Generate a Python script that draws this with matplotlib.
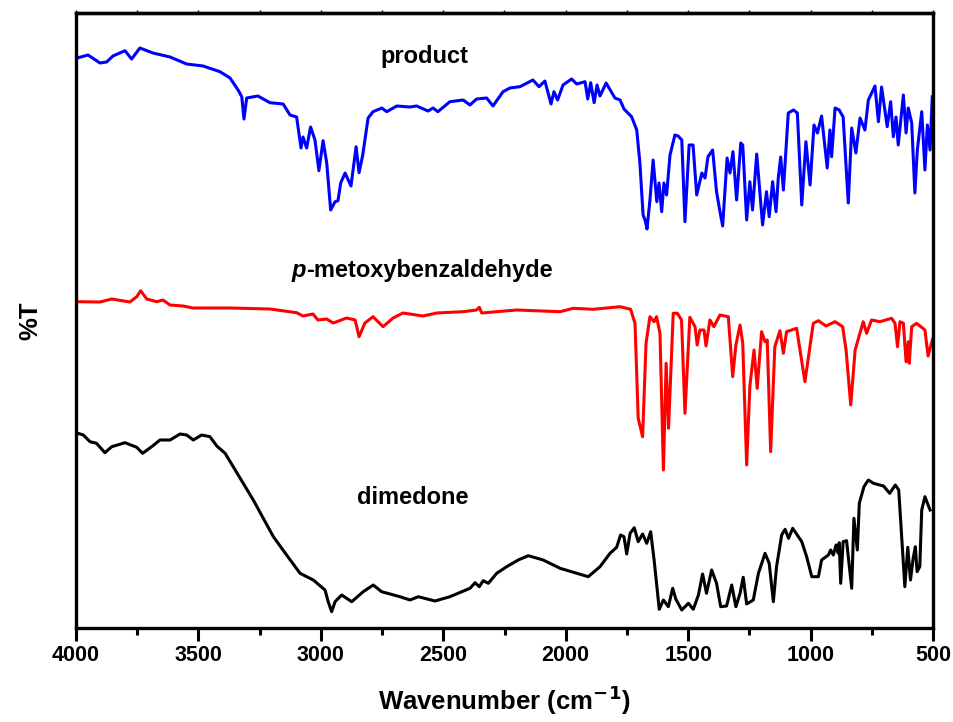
import matplotlib
matplotlib.use("Agg")
import matplotlib.pyplot as plt
from matplotlib.ticker import MultipleLocator

plt.rcParams['font.family'] = ['Liberation Sans', 'DejaVu Sans']
plt.rcParams['font.weight'] = 'bold'
plt.rcParams['mathtext.default'] = 'bf'

# product (blue) - wavenumber / %T (arbitrary offset units)
wn_product = [4000, 3951, 3902, 3875, 3849, 3800, 3773, 3739, 3686, 3616, 3548, 3481, 3412, 3371,
              3338, 3323, 3314, 3303, 3257, 3208, 3154, 3126, 3099, 3081, 3073, 3058, 3042, 3024,
              3008, 2991, 2976, 2960, 2942, 2930, 2919, 2901, 2877, 2856, 2844, 2829, 2807, 2787,
              2751, 2731, 2690, 2636, 2609, 2562, 2542, 2522, 2473, 2419, 2391, 2364, 2323, 2297,
              2256, 2228, 2187, 2134, 2109, 2085, 2060, 2048, 2033, 2011, 1976, 1955, 1921, 1910,
              1898, 1884, 1872, 1860, 1835, 1799, 1778, 1762, 1731, 1710, 1697, 1684, 1676, 1668,
              1656, 1643, 1628, 1619, 1608, 1599, 1588, 1574, 1554, 1541, 1526, 1513, 1496, 1480,
              1465, 1444, 1431, 1419, 1400, 1384, 1370, 1359, 1341, 1329, 1317, 1302, 1285, 1277,
              1261, 1248, 1237, 1220, 1196, 1180, 1169, 1155, 1141, 1132, 1122, 1111, 1091, 1070,
              1054, 1036, 1019, 1002, 986, 972, 955, 932, 921, 914, 900, 883, 867, 846, 832, 815,
              798, 778, 764, 737, 723, 710, 687, 673, 662, 651, 642, 621, 610, 601, 587, 574, 564,
              546, 533, 523, 512, 503]
t_product = [569.7, 573, 565, 566, 572, 577.3, 569, 580, 575, 571, 564, 562, 556.3, 550,
             538, 531.3, 509, 530, 532, 525.3, 524, 513, 511, 480, 491, 480, 501, 488,
             457.3, 487.3, 465, 418, 426.3, 427.3, 445, 455, 442, 481.3, 455.3, 473, 510, 516.3,
             520, 516.3, 522, 521, 522, 517, 520, 516.3, 526.3, 528, 523, 529, 530, 522,
             536.3, 540, 541.3, 548, 541.3, 547, 524, 536.3, 528, 543, 549, 544, 546.3, 529,
             545.3, 525.3, 543, 532, 545, 530, 528, 519, 511.3, 498, 465, 413, 408, 399,
             428, 468, 426.3, 445, 416.3, 445, 433, 473, 493, 492, 488, 406.3, 483, 483,
             433, 455, 450, 471.3, 478, 436.3, 416.3, 402, 470, 455, 476.3, 428, 485, 483,
             408, 446.3, 418, 474, 403, 436.3, 411.3, 446.3, 416.3, 449.7, 471, 438, 515, 518,
             515, 423, 486.3, 443, 503, 495, 512, 460, 498, 471.3, 520, 518, 511, 425, 500, 475,
             510, 498, 528, 542, 506.3, 541, 501.3, 526.3, 491.3, 511, 483, 533, 495, 520, 505, 435, 478,
             516.3, 458, 503, 478, 531.3]

# p-metoxybenzaldehyde (red)
wn_aldehyde = [4000, 3902, 3854, 3780, 3752, 3736, 3711, 3670, 3645, 3616, 3563, 3522, 3371, 3208,
               3099, 3073, 3032, 3012, 2976, 2950, 2935, 2895, 2860, 2844, 2820, 2787, 2746, 2705,
               2665, 2583, 2527, 2419, 2364, 2353, 2343, 2282, 2200, 2023, 1969, 1887, 1778, 1735,
               1717, 1704, 1686, 1672, 1656, 1639, 1629, 1615, 1601, 1590, 1580, 1561, 1544, 1527,
               1513, 1493, 1472, 1463, 1452, 1435, 1427, 1411, 1395, 1370, 1336, 1318, 1305, 1288,
               1277, 1261, 1248, 1231, 1218, 1200, 1186, 1177, 1163, 1146, 1125, 1111, 1098, 1057,
               1023, 989, 968, 937, 900, 869, 855, 836, 818, 785, 771, 751, 717, 669, 655, 645,
               635, 621, 610, 601, 597, 587, 567, 533, 520, 502]
t_aldehyde = [326.3, 326, 329, 326, 331.3, 337.3, 329, 326.3, 328, 323, 322, 320, 320, 319,
              315.3, 312, 314, 308, 309, 305, 306.3, 310, 308, 291.3, 305, 311.3, 301.3, 310,
              315, 312, 315, 316.3, 318, 320.7, 315, 316.3, 318, 316.3, 319.7, 318.7, 321.3, 318.7,
              304.7, 209.7, 191.3, 284.7, 311.3, 306.3, 311.3, 294.7, 158, 264.7, 199.7, 314.7, 314.7, 308,
              214.7, 310.7, 301.3, 283, 298, 298, 282, 308, 301.3, 313, 311.3, 251.3, 283, 303,
              284.7, 163, 241.3, 278, 239.7, 296.3, 286.3, 288, 176.3, 281.3, 297.3, 274.7, 296.3, 299.7,
              246.3, 304.7, 307.3, 302, 306.3, 301.3, 278, 223, 278, 306.3, 294.7, 308, 306.3, 309.7, 304.7, 281.3,
              306.3, 304.7, 266.3, 286.3, 264.7, 301.3, 304.7, 298, 272, 288.7]

# dimedone (black)
wn_dimedone = [4000, 3970, 3943, 3916, 3882, 3854, 3800, 3752, 3728, 3691, 3657, 3616, 3575, 3548,
               3521, 3487, 3453, 3425, 3391, 3358, 3276, 3194, 3140, 3085, 3031, 2983, 2970, 2956,
               2942, 2915, 2874, 2827, 2786, 2752, 2677, 2636, 2602, 2534, 2473, 2391, 2370, 2353,
               2337, 2316, 2282, 2241, 2194, 2153, 2092, 2023, 1955, 1908, 1860, 1819, 1792, 1776,
               1762, 1751, 1737, 1720, 1704, 1686, 1669, 1653, 1639, 1618, 1601, 1581, 1563, 1550,
               1526, 1499, 1479, 1458, 1441, 1425, 1404, 1384, 1367, 1343, 1322, 1305, 1288, 1275,
               1261, 1234, 1213, 1186, 1169, 1152, 1139, 1118, 1104, 1090, 1073, 1036, 1016, 995,
               968, 955, 927, 918, 907, 896, 887, 883, 877, 867, 853, 846, 832, 823, 809, 801,
               782, 764, 743, 702, 677, 654, 640, 626, 615, 603, 592, 581, 572, 565, 554, 546,
               533, 512]
t_dimedone = [195.3, 193, 186.3, 184.7, 175.3, 181.3, 185.3, 180.7, 174.7, 181.3, 188, 188, 194, 193,
              188, 193, 191.3, 182, 174.7, 161.3, 128, 91.3, 73, 54.7, 48, 38, 26.3, 16.3,
              26.3, 33, 26.3, 36.3, 43, 36.3, 31.3, 28, 31.3, 27, 31.3, 39.7, 45.3, 41.3,
              47.3, 44.7, 54.7, 61.3, 68, 72.3, 68, 59.7, 54.7, 51.3, 61.3, 74.7, 80.7, 93,
              91.3, 74, 94.7, 100.3, 86.3, 94, 84.7, 96.3, 68, 18.7, 28, 21.3, 39.7, 28.7,
              18, 24.7, 18.7, 33, 54, 34.7, 58, 44.7, 21.3, 22, 43, 21.3, 34.7, 50.7,
              24, 28, 54.7, 74.7, 64.7, 26.3, 61.3, 93, 98.7, 89.7, 99.7, 86.3, 71.3, 51.3,
              51.3, 68, 73, 78, 73, 83, 74.7, 85.3, 44.7, 86.3, 87.3, 71.3, 39.7, 109.7, 78, 124.7,
              141.3, 148, 144.7, 142, 134.7, 143, 138, 84.7, 41.3, 80.7, 48, 69.7, 81.3, 56.3, 61.3, 118,
              131.3, 118]

fig = plt.figure(figsize=(9.54, 7.22), dpi=100)
ax = fig.add_axes([76 / 954, 94 / 722, 857 / 954, 615 / 722])

ax.plot(wn_product, t_product, color='#0000ff', lw=2.2)
ax.plot(wn_aldehyde, t_aldehyde, color='#ff0000', lw=2.2)
ax.plot(wn_dimedone, t_dimedone, color='black', lw=2.2)

ax.set_xlim(4000, 500)
ax.set_ylim(0, 615)

ax.text(2575, 571, 'product', fontsize=17, fontweight='bold', ha='center', va='center')
t1 = ax.text(3118, 358, 'p', fontsize=17, fontweight='bold', style='italic', ha='left', va='center')
ax.annotate('-metoxybenzaldehyde', xy=(1, 0), xycoords=t1, fontsize=17, fontweight='bold',
            ha='left', va='bottom')
ax.text(2624, 131, 'dimedone', fontsize=17, fontweight='bold', ha='center', va='center')

ax.xaxis.set_major_locator(MultipleLocator(500))
ax.xaxis.set_minor_locator(MultipleLocator(250))
ax.tick_params(axis='x', which='major', direction='out', length=9, width=2.2,
               labelsize=15.5, pad=3)
ax.tick_params(axis='x', which='minor', direction='out', length=5, width=2.2)
ax.tick_params(axis='y', left=False, labelleft=False)
for s in ax.spines.values():
    s.set_linewidth(2.4)

# tiny ticks on the top edge
top = ax.secondary_xaxis('top')
top.xaxis.set_major_locator(MultipleLocator(250))
top.tick_params(direction='out', length=2.5, width=1, labeltop=False)
top.spines['top'].set_linewidth(2.4)

ax.set_xlabel('Wavenumber (cm$^{-1}$)', fontsize=18.5, fontweight='bold', labelpad=13)
ax.set_ylabel('%T', fontsize=18.5, fontweight='bold', labelpad=24)

fig.savefig('out.png', dpi=100)
